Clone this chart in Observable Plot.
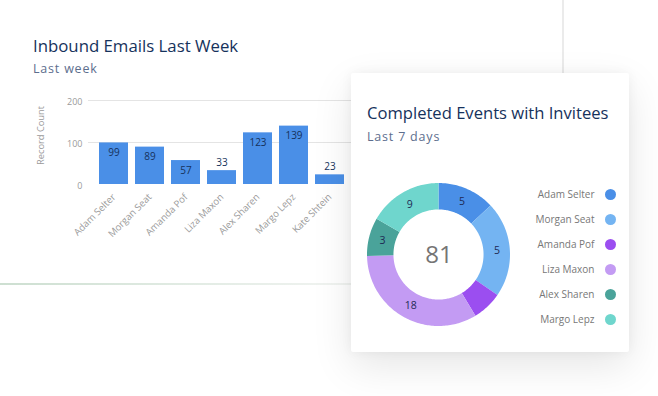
<!DOCTYPE html>
<html><head><meta charset="utf-8">
<script src="https://cdn.jsdelivr.net/npm/d3@7"></script>
<script src="https://cdn.jsdelivr.net/npm/@observablehq/plot@0.6"></script>
<style>
html,body{margin:0;padding:0;background:#fff;}
body{width:658px;height:396px;position:relative;overflow:hidden;font-family:"Open Sans",sans-serif;}
.abs{position:absolute;}
#vline{left:562px;top:0;width:1.5px;height:78px;background:#ebebeb;}
#hline{left:0;top:283px;width:360px;height:1.5px;background:linear-gradient(to right,#cddfd1,#e1ebe3 50%,#f2f4f2);}
.title{color:#16325c;line-height:1;white-space:nowrap;}
.sub{color:#5d6e8e;line-height:1;white-space:nowrap;letter-spacing:0.8px;}
#t1{left:33px;top:37.6px;font-size:16.8px;}
#s1{left:33px;top:62.5px;font-size:12.5px;}
#bars{left:0;top:90px;}
#card{left:351px;top:73px;width:278px;height:279px;background:#fff;border-radius:2px;box-shadow:0 14px 40px rgba(0,0,0,0.10),0 0 12px rgba(0,0,0,0.05);}
#t2{left:16px;top:32px;font-size:16.6px;}
#s2{left:16px;top:58.4px;font-size:12.5px;}
#donut{left:14px;top:107.5px;}
#legend{left:149px;top:106px;}
</style>
</head>
<body>
<div id="vline" class="abs"></div>
<div id="hline" class="abs"></div>
<div id="t1" class="abs title">Inbound Emails Last Week</div>
<div id="s1" class="abs sub">Last week</div>
<div id="bars" class="abs"></div>
<div id="card" class="abs">
  <div id="t2" class="abs title">Completed Events with Invitees</div>
  <div id="s2" class="abs sub">Last 7 days</div>
  <div id="donut" class="abs"></div>
  <div id="legend" class="abs"></div>
</div>
<script>
// ---- Bar chart data ----
const names = ["Adam Selter","Morgan Seat","Amanda Pof","Liza Maxon","Alex Sharen","Margo Lepz","Kate Shtein"];
const counts = [99, 89, 57, 33, 123, 139, 23];
const yTicks = [0, 100, 200];
const gridTicks = [100, 200];
const yAxisLabel = "Record Count";

// ---- Donut data ----
const donutNames = ["Adam Selter","Morgan Seat","Amanda Pof","Liza Maxon","Alex Sharen","Margo Lepz"];
const donutShares = [10.5, 17.5, 5.5, 27, 7, 13.5];   // slice sizes (sum 81)
const donutLabels = ["5", "5", "", "18", "3", "9"];   // numbers printed on the slices
const donutTotal = "81";
const donutColors = ["#4a8fe7","#74b4f2","#9b4ef0","#c39bf3","#4aa39a","#6fd6cd"];

const barData = names.map((name, i) => ({name, count: counts[i]}));
const axisColor = "#9a9a9a";

const barPlot = Plot.plot({
  width: 360, height: 160,
  marginLeft: 88, marginRight: 6, marginTop: 10, marginBottom: 66,
  style: {fontFamily: "Open Sans", background: "transparent", overflow: "visible"},
  x: {domain: names, padding: 0.2, label: null},
  y: {domain: [0, 200], label: null},
  marks: [
    Plot.gridY(gridTicks, {stroke: "#e4e4e4", strokeOpacity: 1}),
    Plot.barY(barData, {x: "name", y: "count", fill: "#4a8fe7"}),
    Plot.text(barData.filter(d => d.count >= 50), {x: "name", y: "count", text: d => String(d.count), dy: 10, fill: "#16325c", fontSize: 10}),
    Plot.text(barData.filter(d => d.count < 50), {x: "name", y: "count", text: d => String(d.count), dy: -8, fill: "#16325c", fontSize: 10}),
    Plot.axisY(yTicks, {tickSize: 0, tickPadding: 6, fontSize: 9, color: axisColor, label: null, dy: 2}),
    Plot.axisX({tickRotate: -45, tickSize: 0, tickPadding: 11, fontSize: 9.6, color: axisColor, label: null}),
    Plot.text([yAxisLabel], {frameAnchor: "left", textAnchor: "middle", rotate: -90, dx: -47, dy: -7, fontSize: 9.3, fill: axisColor})
  ]
});
document.getElementById("bars").appendChild(barPlot);

// ---- Donut ----
const INNER = 0.63;
const arcs = d3.pie().sort(null).value(d => d)(donutShares);
const pts = [];
arcs.forEach((a, i) => {
  const n = Math.max(2, Math.ceil((a.endAngle - a.startAngle) / 0.02));
  for (let k = 0; k <= n; k++) {
    const t = a.startAngle + (a.endAngle - a.startAngle) * k / n;
    pts.push({name: donutNames[i], ox: Math.sin(t), oy: Math.cos(t), ix: INNER * Math.sin(t), iy: INNER * Math.cos(t)});
  }
});
const mid = (1 + INNER) / 2;
const labelData = arcs.map((a, i) => {
  const t = (a.startAngle + a.endAngle) / 2;
  return {label: donutLabels[i], x: mid * Math.sin(t), y: mid * Math.cos(t)};
}).filter(d => d.label);

const donutPlot = Plot.plot({
  width: 147, height: 147, margin: 2,
  style: {fontFamily: "Open Sans", background: "transparent", overflow: "visible"},
  x: {domain: [-1, 1], axis: null},
  y: {domain: [-1, 1], axis: null},
  color: {domain: donutNames, range: donutColors},
  marks: [
    Plot.area(pts, {x1: "ox", y1: "oy", x2: "ix", y2: "iy", z: "name", fill: "name", curve: "linear"}),
    Plot.text(labelData, {x: "x", y: "y", text: "label", fill: "#1e2a55", fontSize: 10.5}),
    Plot.text([donutTotal], {frameAnchor: "middle", text: d => d, fontSize: 24, fill: "#757575"})
  ]
});
document.getElementById("donut").appendChild(donutPlot);

const legendPlot = Plot.plot({
  width: 125, height: 154,
  marginLeft: 0, marginRight: 15, marginTop: 0, marginBottom: 0,
  style: {fontFamily: "Open Sans", background: "transparent", overflow: "visible"},
  y: {type: "point", domain: donutNames, range: [13, 141], padding: 0, axis: null},
  color: {domain: donutNames, range: donutColors},
  marks: [
    Plot.dot(donutNames, {y: d => d, fill: d => d, r: 5.5, frameAnchor: "right"}),
    Plot.text(donutNames, {y: d => d, text: d => d, frameAnchor: "right", dx: -16, textAnchor: "end", fill: "#777777", fontSize: 10})
  ]
});
document.getElementById("legend").appendChild(legendPlot);
</script>
</body></html>
